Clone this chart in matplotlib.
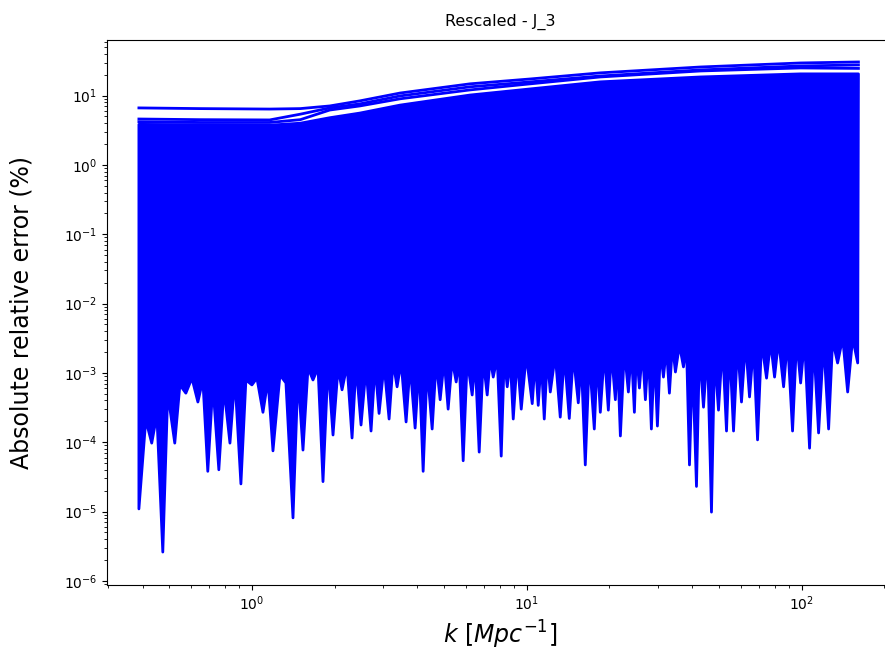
import numpy as np
import matplotlib
matplotlib.use("Agg")
import matplotlib.pyplot as plt

# k values where the upper error curves are sampled
k_top = [0.388, 0.647, 1.16, 1.50, 1.92, 2.47, 3.46, 6.22, 10.3, 18.5, 42.9, 99.1, 161.0]

# the few runs with the largest error, standing apart from the rest
err_top_a = [6.65, 6.5, 6.4, 6.5, 7.1, 8.4, 10.9, 14.8, 17.4, 21.3, 25.9, 29.6, 30.6]
err_top_b = [4.6, 4.5, 4.46, 5.4, 6.65, 7.6, 9.9, 13.4, 15.8, 19.2, 23.5, 26.8, 27.7]
err_top_c = [4.2, 4.1, 4.1, 4.5, 6.2, 7.1, 9.0, 12.1, 14.8, 18.6, 22.7, 25.1, 24.7]

# upper edge of the dense band made by all the other runs
err_band_top = [3.85, 3.8, 3.75, 4.0, 4.8, 5.6, 7.3, 10.2, 12.5, 15.8, 18.6, 20.6, 20.6]

# lower edge of the band: dips of single runs and the floor between them
k_low = [0.388, 0.411, 0.432, 0.451, 0.474, 0.494, 0.524, 0.547, 0.575, 0.605,
         0.636, 0.663, 0.691, 0.721, 0.758, 0.791, 0.832, 0.867, 0.912, 0.951,
         1.000, 1.043, 1.097, 1.144, 1.193, 1.265, 1.330, 1.411, 1.471, 1.534,
         1.600, 1.668, 1.740, 1.814, 1.892, 1.973, 2.058, 2.128, 2.219, 2.314,
         2.393, 2.495, 2.602, 2.713, 2.806, 2.902, 3.026, 3.156, 3.264, 3.375,
         3.490, 3.639, 3.764, 3.925, 4.059, 4.198, 4.341, 4.527, 4.682, 4.841,
         5.007, 5.176, 5.354, 5.537, 5.677, 5.871, 6.071, 6.331, 6.492, 6.714,
         6.942, 7.180, 7.362, 7.551, 7.808, 8.075, 8.279, 8.492, 8.709, 8.930,
         9.235, 9.550, 9.958, 10.47, 10.74, 11.01, 11.29, 11.58, 11.88, 12.18,
         12.70, 13.24, 13.70, 14.28, 14.77, 15.40, 15.79, 16.33, 16.89, 17.61,
         18.06, 18.52, 19.16, 19.81, 20.32, 21.01, 21.37, 21.91, 22.66, 23.43,
         24.03, 24.64, 25.06, 25.70, 26.35, 27.02, 27.71, 28.41, 29.14, 29.88,
         30.64, 31.43, 32.23, 33.04, 33.89, 34.75, 35.94, 37.17, 38.12, 39.09,
         40.09, 41.45, 42.50, 43.96, 45.46, 47.00, 48.21, 49.85, 51.55, 53.31,
         54.67, 56.54, 58.47, 60.44, 62.52, 64.65, 66.86, 69.14, 71.50, 74.56,
         77.11, 79.73, 82.46, 86.0, 88.9, 92.7, 95.9, 99.2, 102.5, 106.9,
         110.6, 115.3, 120.3, 125.4, 129.7, 135.2, 141.1, 147.1, 153.4, 160.0]
err_low = [1.09e-5, 2.1e-4, 9.7e-5, 2.47e-4, 2.6e-6, 5.1e-4, 9.7e-5, 6.7e-4, 5.1e-4, 8.4e-4,
           3.8e-4, 7.9e-4, 3.8e-5, 6.7e-4, 4.0e-5, 6.05e-4, 9.7e-5, 8.4e-4, 2.5e-5, 7.9e-4,
           6.7e-4, 8.4e-4, 2.7e-4, 7.9e-4, 7.5e-5, 9.3e-4, 7.15e-4, 8.1e-6, 9.3e-4, 7.7e-5,
           1.18e-3, 7.9e-4, 1.18e-3, 2.7e-5, 1.30e-3, 1.27e-4, 1.18e-3, 5.7e-4, 1.30e-3, 1.15e-4,
           1.30e-3, 1.77e-4, 1.18e-3, 1.45e-4, 1.30e-3, 2.6e-4, 1.30e-3, 2.16e-4, 1.44e-3, 6.3e-4,
           1.44e-3, 1.96e-4, 1.30e-3, 1.60e-4, 1.30e-3, 3.8e-5, 1.18e-3, 1.55e-4, 1.44e-3, 4.1e-4,
           1.53e-3, 3.0e-4, 1.53e-3, 7.4e-4, 1.53e-3, 5.4e-5, 1.53e-3, 4.8e-4, 1.53e-3, 7.2e-5,
           1.53e-3, 4.8e-4, 1.64e-3, 8.7e-4, 1.64e-3, 6.3e-5, 1.64e-3, 6.3e-4, 1.53e-3, 2.16e-4,
           1.64e-3, 3.0e-4, 1.81e-3, 3.6e-4, 1.53e-3, 3.4e-4, 1.53e-3, 2.16e-4, 1.64e-3, 5.3e-4,
           1.81e-3, 2.3e-4, 1.81e-3, 2.2e-4, 1.81e-3, 3.7e-4, 1.53e-3, 4.7e-5, 1.64e-3, 1.55e-4,
           1.64e-3, 2.7e-4, 2.0e-3, 2.9e-4, 2.0e-3, 4.1e-4, 1.81e-3, 1.23e-4, 2.14e-3, 5.3e-4,
           2.14e-3, 2.7e-4, 2.14e-3, 6.05e-4, 2.14e-3, 4.1e-4, 2.14e-3, 1.55e-4, 2.0e-3, 1.71e-4,
           2.14e-3, 8.7e-4, 2.29e-3, 5.1e-4, 2.53e-3, 1.03e-3, 2.53e-3, 1.22e-3, 2.53e-3, 4.7e-5,
           1.53e-3, 2.3e-5, 2.14e-3, 3.2e-4, 2.14e-3, 9.8e-6, 1.81e-3, 2.9e-4, 2.53e-3, 1.45e-4,
           2.53e-3, 1.45e-4, 2.53e-3, 3.8e-4, 2.79e-3, 4.5e-4, 2.53e-3, 1.08e-4, 2.79e-3, 8.4e-4,
           2.79e-3, 8.7e-4, 2.98e-3, 6.3e-4, 2.98e-3, 1.45e-4, 2.98e-3, 7.15e-4, 2.98e-3, 8.2e-5,
           2.79e-3, 1.36e-4, 2.79e-3, 1.55e-4, 2.98e-3, 1.39e-3, 3.19e-3, 5.3e-4, 3.19e-3, 1.39e-3]

fig = plt.figure(figsize=(8.85, 6.62), dpi=100)
ax = fig.add_axes([0.1209, 0.1163, 0.8881, 0.8240])

# the dense band of runs, closed between its lower and upper edges
band_k = np.concatenate([k_low, k_top[::-1]])
band_err = np.concatenate([err_low, err_band_top[::-1]])
ax.fill(band_k, band_err, facecolor='b', edgecolor='b', lw=2, joinstyle='round')

for err in (err_top_c, err_top_b, err_top_a):
    ax.plot(k_top, err, color='b', lw=2)

ax.set_xscale('log')
ax.set_yscale('log')
ax.set_xlim(0.297, 215)
ax.set_ylim(8.7e-7, 64.5)

ax.set_title('Rescaled - J_3', fontsize=11.5, pad=10)
ax.set_xlabel(r'$k\ [Mpc^{-1}]$', fontsize=17)
ax.set_ylabel('Absolute relative error (%)', fontsize=17)
ax.yaxis.set_label_coords(-0.093, 0.5)

fig.savefig('out.png', dpi=100)
